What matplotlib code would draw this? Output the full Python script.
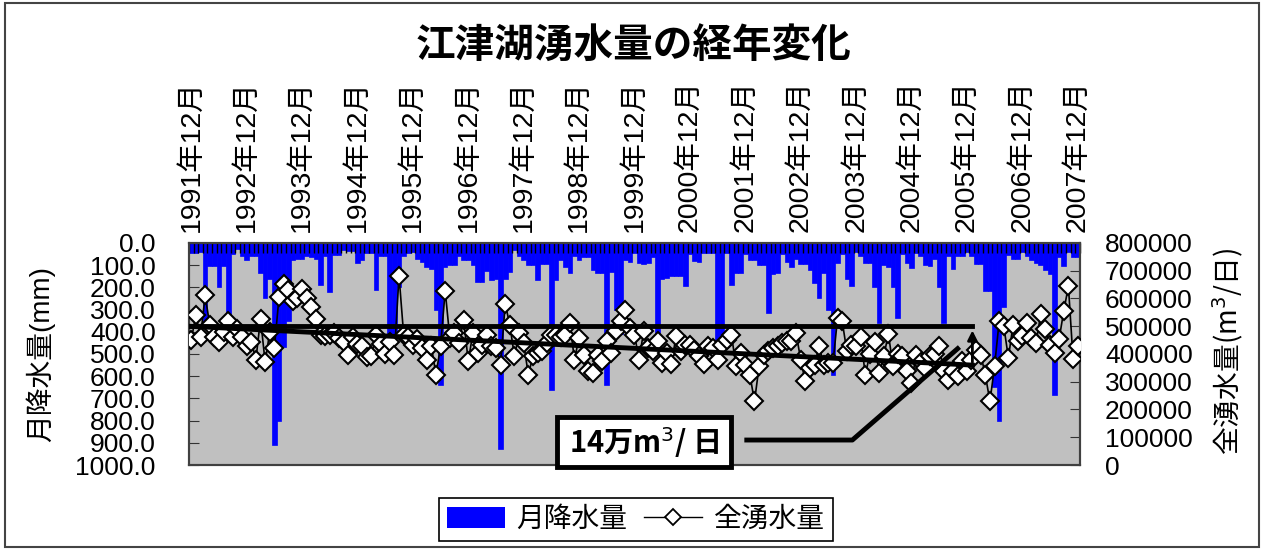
import numpy as np
import matplotlib
matplotlib.use('Agg')
import matplotlib.pyplot as plt
from matplotlib.patches import Rectangle, Patch
from matplotlib.lines import Line2D

plt.rcParams['font.family'] = ['Liberation Sans', 'Noto Sans CJK JP', 'DejaVu Sans']

# Monthly rainfall (mm), Dec 1991 .. Dec 2007
rain = [
    45, 45, 40, 360, 105, 105, 200, 105, 340, 50, 25, 60,
    75, 60, 60, 135, 250, 160, 910, 800, 470, 350, 75, 70,
    70, 60, 65, 70, 190, 60, 220, 55, 55, 30, 35, 35,
    90, 75, 45, 45, 210, 60, 60, 430, 420, 200, 60, 45,
    40, 70, 85, 110, 115, 300, 640, 110, 100, 100, 60, 75,
    75, 100, 175, 175, 125, 165, 160, 930, 160, 130, 30, 60,
    75, 100, 100, 165, 95, 95, 660, 165, 75, 110, 135, 60,
    75, 65, 65, 120, 135, 135, 640, 130, 300, 410, 75, 85,
    45, 90, 95, 90, 65, 420, 160, 157, 150, 150, 150, 195,
    50, 80, 85, 45, 45, 45, 435, 435, 45, 188, 135, 135,
    50, 75, 75, 100, 100, 315, 140, 135, 50, 85, 110, 70,
    95, 95, 120, 180, 250, 135, 300, 595, 90, 50, 160, 195,
    40, 60, 90, 90, 200, 360, 100, 110, 200, 338, 50, 90,
    113, 45, 60, 100, 105, 70, 200, 360, 60, 115, 60, 60,
    40, 60, 95, 95, 218, 218, 650, 800, 290, 55, 70, 70,
    40, 60, 75, 90, 100, 120, 140, 683, 65, 105, 40, 65, 65,
]

# Total spring discharge (thousand m3/day)
spring_k = [
    451, 541, 460, 611, 505, 463, 442, 480, 518, 460, 490, 460,
    430, 445, 380, 527, 370, 480, 420, 605, 652, 630, 590, 600,
    635, 600, 570, 525, 470, 465, 470, 475, 458, 442, 398, 463,
    435, 430, 390, 392, 470, 435, 400, 445, 398, 682, 470, 463,
    433, 455, 420, 380, 428, 325, 428, 628, 458, 475, 440, 524,
    373, 476, 403, 433, 470, 428, 421, 361, 581, 505, 391, 475,
    440, 325, 391, 403, 410, 440, 470, 470, 460, 470, 512, 380,
    458, 398, 337, 331, 398, 374, 446, 403, 482, 520, 560, 494,
    470, 380, 482, 421, 410, 446, 368, 405, 364, 464, 410, 434,
    434, 416, 392, 364, 428, 420, 380, 434, 452, 470, 356, 405,
    361, 325, 229, 356, 398, 410, 420, 428, 440, 446, 446, 476,
    380, 301, 350, 362, 428, 362, 368, 368, 530, 518, 410, 434,
    428, 461, 325, 400, 443, 331, 391, 473, 356, 400, 391, 337,
    295, 398, 370, 350, 391, 400, 428, 337, 307, 337, 319, 374,
    337, 380, 416, 398, 325, 229, 356, 518, 500, 386, 505, 446,
    464, 512, 458, 440, 544, 491, 434, 403, 455, 556, 644, 383, 428,
]
spring = [v * 1000 for v in spring_k]

years = list(range(1991, 2008))
tick_labels = [f"{y}年12月" for y in years]
rain_ticks = list(range(0, 1001, 100))
spring_ticks = list(range(0, 800001, 100000))

baseline_level = 500000   # 1990s level
trend_end_level = 360000  # recent level (14万 m3/日 lower)

months = np.arange(len(rain))
n = len(rain)
CJK = ['Noto Sans CJK JP']

fig = plt.figure(figsize=(12.64, 5.49), dpi=100)
ax = fig.add_axes([0.1495, 0.153, 0.7049, 0.4044])
ax.set_facecolor('#C0C0C0')
ax.bar(months, rain, width=1.0, color='#0000FF', edgecolor='#0000FF', linewidth=0.5)
ax.set_xlim(-0.5, n - 0.5)
ax.set_ylim(1000, 0)
ax.set_yticks(rain_ticks)
ax.set_yticklabels([f"{v:.1f}" for v in rain_ticks])
ax.tick_params(axis='y', direction='in', length=7, labelsize=19, pad=24, color='#333333')

ax.xaxis.tick_top()
ax.set_xticks(months[::12])
ax.set_xticklabels(tick_labels, rotation=90)
ax.tick_params(axis='x', which='major', length=0, labelsize=20.5, pad=8)
ax.set_xticks(np.arange(-0.5, n, 1), minor=True)
ax.tick_params(axis='x', which='minor', direction='in', length=7, top=True, bottom=False,
               color='black', width=1)
ax.set_ylabel("月降水量(mm)", fontsize=20)
ax.yaxis.set_label_coords(-0.15, 0.5)

ax2 = ax.twinx()
ax2.plot(months, spring, color='black', lw=1.2, marker='D', markersize=9,
         markerfacecolor='white', markeredgecolor='black', markeredgewidth=1.5, zorder=3)
ax2.set_ylim(0, 800000)
ax2.set_yticks(spring_ticks)
ax2.set_yticklabels([str(v) for v in spring_ticks])
ax2.tick_params(axis='y', direction='in', length=7, labelsize=19, pad=18, color='#333333')
ax2.set_ylabel(r"全湧水量(m$^{3}$/日)", fontsize=20, family=CJK)
ax2.yaxis.set_label_coords(1.147, 0.51)

for a in (ax, ax2):
    for s in a.spines.values():
        s.set_color('#404040')
        s.set_linewidth(1.5)

# trend annotations
x_end = 169.2
ax2.plot([-0.5, x_end], [baseline_level, baseline_level], color='black', lw=3.5, zorder=4)
ax2.plot([-0.5, x_end], [baseline_level, trend_end_level], color='black', lw=3.5, zorder=4)
ax2.annotate('', xy=(x_end, baseline_level - 5000), xytext=(x_end, trend_end_level),
             arrowprops=dict(arrowstyle='-|>', lw=2, color='black', mutation_scale=14), zorder=5)
ax2.plot([119.8, 143.2, 166.4], [90000, 90000, 425000], color='black', lw=3.5,
         zorder=4, clip_on=False, solid_capstyle='butt')
ax2.add_patch(Rectangle((79.2, -6000), 37.8, 179000, facecolor='white', edgecolor='black',
                        lw=3.5, zorder=6, clip_on=False))
ax2.text(98.1, 82000, r"14万m$^{3}$/ 日", ha='center', va='center', fontsize=21,
         fontweight='bold', family=CJK, zorder=7)

fig.text(0.5016, 1 - 45 / 549, "江津湖湧水量の経年変化", ha='center', va='center',
         fontsize=28.5, fontweight='bold', family=CJK)

handles = [Patch(facecolor='#0000FF', edgecolor='none'),
           Line2D([], [], color='black', lw=1, marker='D', markersize=8,
                  markerfacecolor='white', markeredgecolor='black', markeredgewidth=1.3)]
leg = fig.legend(handles, ['月降水量', '全湧水量'], loc='center', bbox_to_anchor=(0.503, 0.053),
                 ncol=2, fontsize=20, frameon=True, fancybox=False, edgecolor='black',
                 framealpha=1, handlelength=2.1, handleheight=0.8, columnspacing=0.6,
                 handletextpad=0.4, borderpad=0.3)
leg.get_frame().set_linewidth(1.2)

fig.add_artist(Rectangle((0.004, 0.004), 0.992, 0.99, transform=fig.transFigure,
                         fill=False, edgecolor='#444444', lw=1.5))

fig.savefig('out.png', dpi=100)
